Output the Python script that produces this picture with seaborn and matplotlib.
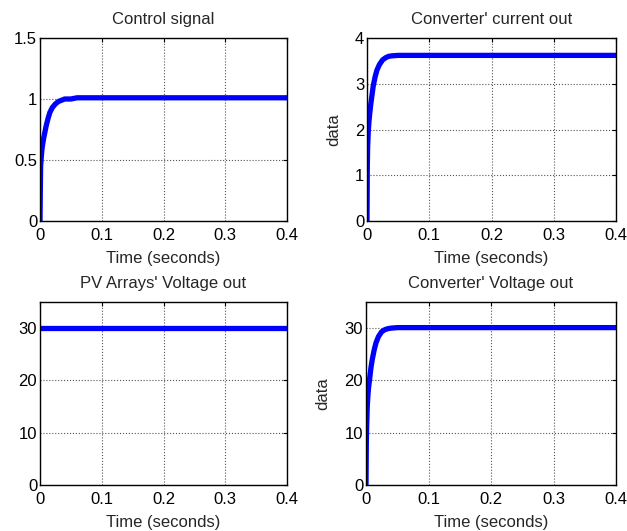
import matplotlib
matplotlib.use("Agg")
import matplotlib.pyplot as plt
import seaborn as sns
import pandas as pd

# data (time in seconds)
t_ctrl = [0, 0.0005, 0.001, 0.002, 0.003, 0.004, 0.006, 0.008, 0.01, 0.013, 0.016, 0.02,
          0.025, 0.03, 0.035, 0.04, 0.05, 0.06, 0.1, 0.2, 0.3, 0.4]
y_ctrl = [0, 0.25, 0.45, 0.52, 0.58, 0.62, 0.68, 0.73, 0.78, 0.84, 0.89, 0.93,
          0.96, 0.98, 0.99, 1.0, 1.0, 1.01, 1.01, 1.01, 1.01, 1.01]

t_cur = [0, 0.0005, 0.001, 0.002, 0.003, 0.004, 0.006, 0.008, 0.01, 0.013, 0.016, 0.02,
         0.025, 0.03, 0.035, 0.04, 0.05, 0.06, 0.1, 0.2, 0.3, 0.4]
y_cur = [0, 1.2, 1.6, 1.95, 2.15, 2.3, 2.55, 2.75, 2.95, 3.15, 3.3, 3.42,
         3.52, 3.57, 3.6, 3.61, 3.62, 3.62, 3.62, 3.62, 3.62, 3.62]

t_pv = [0, 0.1, 0.2, 0.3, 0.4]
y_pv = [30.1, 30.1, 30.1, 30.1, 30.1]

t_vout = [0, 0.0005, 0.001, 0.002, 0.003, 0.004, 0.006, 0.008, 0.01, 0.013, 0.016, 0.02,
          0.025, 0.03, 0.035, 0.04, 0.05, 0.06, 0.1, 0.2, 0.3, 0.4]
y_vout = [0, 8, 11, 15, 17, 18.5, 20.5, 22.5, 24, 25.8, 27.2, 28.4,
          29.3, 29.7, 29.9, 30.0, 30.1, 30.1, 30.1, 30.1, 30.1, 30.1]

titles = ["Control signal", "Converter' current out", "PV Arrays' Voltage out", "Converter' Voltage out"]
series = [(t_ctrl, y_ctrl), (t_cur, y_cur), (t_pv, y_pv), (t_vout, y_vout)]
ylims = [(0, 1.5), (0, 4), (0, 35), (0, 35)]
yticks = [[0, 0.5, 1, 1.5], [0, 1, 2, 3, 4], [0, 10, 20, 30], [0, 10, 20, 30]]
ylabels = ["", "data", "", "data"]

sns.set_style("white")
plt.rcParams["font.family"] = ["Liberation Sans", "DejaVu Sans"]

W, H = 627, 531
fig = plt.figure(figsize=(W / 100, H / 100), dpi=100)

# axes boxes in pixels: left, top, right, bottom
boxes = [(40, 38, 287, 221), (367, 38, 616, 221), (40, 302, 287, 485), (366, 302, 616, 485)]

for i, (l, t, r, b) in enumerate(boxes):
    ax = fig.add_axes([l / W, 1 - b / H, (r - l) / W, (b - t) / H])
    df = pd.DataFrame({"t": series[i][0], "y": series[i][1]})
    sns.lineplot(data=df, x="t", y="y", ax=ax, color="#0000ff", linewidth=3.8)
    ax.set_xlim(0, 0.4)
    ax.set_ylim(*ylims[i])
    ax.set_xticks([0, 0.1, 0.2, 0.3, 0.4])
    ax.set_xticklabels(["0", "0.1", "0.2", "0.3", "0.4"])
    ax.set_yticks(yticks[i])
    ax.set_yticklabels([f"{v:g}" for v in yticks[i]])
    ax.grid(True, color="#555555", linestyle=":", linewidth=0.8)
    ax.tick_params(direction="in", top=True, right=True, length=3, width=0.8,
                   labelsize=12, colors="black")
    ax.tick_params(axis="x", pad=5)
    ax.tick_params(axis="y", pad=2)
    for s in ax.spines.values():
        s.set_color("black")
        s.set_linewidth(1.0)
    ax.set_title(titles[i], fontsize=12, pad=10)
    ax.set_xlabel("Time (seconds)", fontsize=12, labelpad=6)
    ax.set_ylabel(ylabels[i], fontsize=12, labelpad=10)

fig.savefig("out.png", dpi=100, facecolor="white")
